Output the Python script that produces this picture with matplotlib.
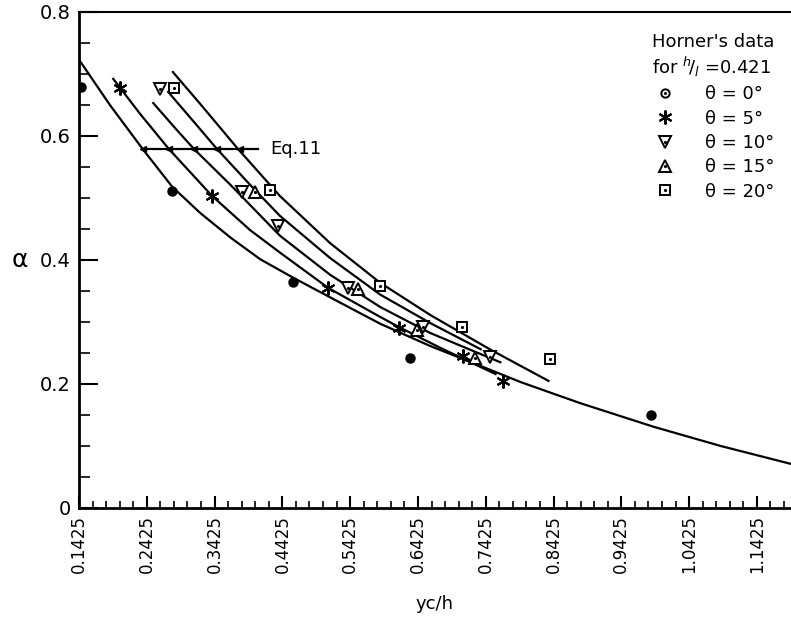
import matplotlib
matplotlib.use("Agg")
import numpy as np
import matplotlib.pyplot as plt
from matplotlib.lines import Line2D
from matplotlib.ticker import FixedLocator

# Horner's data points (yc/h, alpha), h/l = 0.421
th0_x = [0.1455, 0.280, 0.458, 0.631, 0.987]
th0_y = [0.679, 0.511, 0.365, 0.242, 0.150]
th5_x = [0.203, 0.339, 0.510, 0.614, 0.709, 0.768]
th5_y = [0.677, 0.503, 0.355, 0.290, 0.245, 0.205]
th10_x = [0.262, 0.383, 0.436, 0.540, 0.650, 0.749]
th10_y = [0.676, 0.510, 0.455, 0.355, 0.292, 0.244]
th15_x = [0.402, 0.554, 0.641, 0.727]
th15_y = [0.510, 0.353, 0.287, 0.242]
th20_x = [0.283, 0.424, 0.587, 0.708, 0.838]
th20_y = [0.677, 0.513, 0.358, 0.292, 0.240]

# theory curves (one per angle)
c0_x = [0.1425, 0.188, 0.237, 0.280, 0.321, 0.366, 0.410, 0.459, 0.528, 0.587,
        0.661, 0.735, 0.794, 0.882, 0.990, 1.089, 1.193]
c0_y = [0.723, 0.650, 0.578, 0.518, 0.476, 0.436, 0.401, 0.371, 0.331, 0.297,
        0.261, 0.229, 0.203, 0.169, 0.131, 0.100, 0.071]
c5_x = [0.193, 0.233, 0.275, 0.339, 0.395, 0.440, 0.510, 0.587, 0.614, 0.676, 0.720, 0.757]
c5_y = [0.692, 0.635, 0.579, 0.503, 0.448, 0.411, 0.355, 0.308, 0.292, 0.258, 0.235, 0.216]
c10_x = [0.252, 0.284, 0.312, 0.366, 0.439, 0.513, 0.587, 0.661, 0.720, 0.764]
c10_y = [0.653, 0.613, 0.579, 0.521, 0.439, 0.376, 0.324, 0.282, 0.255, 0.235]
c15_x = [0.274, 0.307, 0.346, 0.395, 0.439, 0.513, 0.587, 0.661, 0.735]
c15_y = [0.671, 0.629, 0.579, 0.521, 0.471, 0.403, 0.344, 0.298, 0.256]
c20_x = [0.281, 0.321, 0.377, 0.439, 0.513, 0.587, 0.661, 0.750, 0.835]
c20_y = [0.703, 0.652, 0.579, 0.503, 0.427, 0.363, 0.311, 0.255, 0.205]

# Eq. 11 line
eq_y = 0.579
eq_x_end = 0.407
eq_cross_x = [0.237, 0.275, 0.312, 0.346, 0.380]

x_ticks = [0.1425, 0.2425, 0.3425, 0.4425, 0.5425, 0.6425, 0.7425, 0.8425,
           0.9425, 1.0425, 1.1425]
x_ticklabels = ["0.1425", "0.2425", "0.3425", "0.4425", "0.5425", "0.6425",
                "0.7425", "0.8425", "0.9425", "1.0425", "1.1425"]
y_ticks = [0, 0.2, 0.4, 0.6, 0.8]
y_ticklabels = ["0", "0.2", "0.4", "0.6", "0.8"]


def dotted(ax, x, y, marker, ms):
    ax.plot(x, y, ls='none', marker=marker, ms=ms, mfc='white', mec='black', mew=1.4)
    ax.plot(x, y, ls='none', marker='.', ms=2.5, color='black')


fig = plt.figure(figsize=(7.91, 6.17), dpi=100)
ax = fig.add_axes([0.0999, 0.1767, 0.9, 0.804])

for cx, cy in [(c0_x, c0_y), (c5_x, c5_y), (c10_x, c10_y), (c15_x, c15_y), (c20_x, c20_y)]:
    ax.plot(cx, cy, color='black', lw=1.6)

# Eq.11
ax.plot([eq_cross_x[0], eq_x_end], [eq_y, eq_y], color='black', lw=1.6)
ax.plot(eq_cross_x, [eq_y] * len(eq_cross_x), ls='none', marker='<', ms=4, color='black')
ax.text(0.4246, eq_y, "Eq.11", fontsize=13, va='center', ha='left')

# data
ax.plot(th0_x, th0_y, ls='none', marker='o', ms=6.5, color='black')
ax.plot(th5_x, th5_y, ls='none', marker=(6, 2, 0), ms=10, color='black', mew=1.5)
dotted(ax, th10_x, th10_y, 'v', 8)
dotted(ax, th15_x, th15_y, '^', 8)
dotted(ax, th20_x, th20_y, 's', 7.5)

ax.set_xlim(0.1425, 1.1927)
ax.set_ylim(0, 0.8)

ax.set_xticks(x_ticks)
ax.set_xticklabels(x_ticklabels, rotation=90, fontsize=12)
ax.xaxis.set_minor_locator(FixedLocator(np.arange(0.1425, 1.19, 0.02)))
ax.set_yticks(y_ticks)
ax.set_yticklabels(y_ticklabels, fontsize=14)
ax.yaxis.set_minor_locator(FixedLocator(np.arange(0, 0.81, 0.05)))
ax.tick_params(axis='x', which='major', direction='in', length=9, width=1.5, pad=5)
ax.tick_params(axis='x', which='minor', direction='in', length=5, width=1.2)
ax.tick_params(axis='y', which='major', direction='in', length=14, width=1.5, pad=6)
ax.tick_params(axis='y', which='minor', direction='in', length=8, width=1.2)

ax.spines['right'].set_visible(False)
ax.spines['left'].set_linewidth(2)
ax.spines['bottom'].set_linewidth(2)
ax.spines['top'].set_linewidth(1.5)

ax.set_xlabel("yc/h", fontsize=13, labelpad=16)
ax.set_ylabel("α", fontsize=18, rotation=0, labelpad=14, va='center')

# legend
def dot_handle(m, ms):
    return (Line2D([], [], ls='none', marker=m, ms=ms, mfc='white', mec='black', mew=1.4),
            Line2D([], [], ls='none', marker='.', ms=2.5, color='black'))

handles = [dot_handle('o', 6),
           Line2D([], [], ls='none', marker=(6, 2, 0), ms=10, color='black', mew=1.5),
           dot_handle('v', 8), dot_handle('^', 8), dot_handle('s', 7.5)]
labels = ["θ = 0°", "θ = 5°", "θ = 10°", "θ = 15°", "θ = 20°"]
leg = ax.legend(handles, labels, loc='upper right', bbox_to_anchor=(1.0, 0.99),
                frameon=False, fontsize=13, handletextpad=1.2, labelspacing=0.35,
                title="Horner's data\nfor ${}^{h}\\!/{}_{l}$ =0.421", title_fontsize=13)
leg._legend_box.align = "right"

fig.savefig("out.png", dpi=100)
